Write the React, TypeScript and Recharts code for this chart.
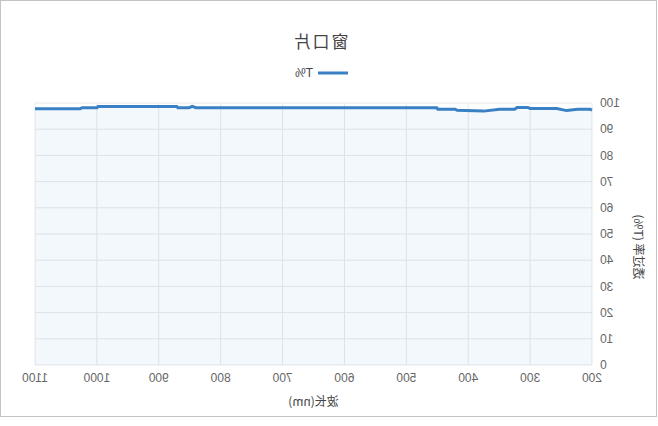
import React from 'react';
import { AreaChart, Area, XAxis, YAxis, CartesianGrid, Legend, Label } from 'recharts';

const wavelengths = [200, 203, 223, 241, 257, 300, 304, 321, 325, 349, 375, 418, 421, 449, 451, 840, 846, 851, 869, 871, 998, 1000, 1024, 1027, 1100];
const transmittance = [97.3, 97.6, 97.6, 97.1, 97.9, 97.9, 98.3, 98.3, 97.6, 97.6, 96.9, 97.2, 97.6, 97.6, 98.2, 98.2, 98.7, 98.2, 98.2, 98.7, 98.7, 98.2, 98.2, 97.8, 97.8];
const xTicks = [200, 300, 400, 500, 600, 700, 800, 900, 1000, 1100];
const yTicks = [0, 10, 20, 30, 40, 50, 60, 70, 80, 90, 100];

const title = '窗口片';
const seriesName = 'T%';
const xTitle = '波长(nm)';
const yTitle = '透过率 (T%)';

const data = wavelengths.map((w, i) => ({ wl: w, t: transmittance[i] }));

const FONT = '"Noto Sans CJK SC", "Noto Sans", sans-serif';
const TICK_FONT = '"Liberation Sans", Arial, sans-serif';
const BLUE = '#3a80c4';

export default function App() {
  return (
    <div
      style={{
        position: 'absolute',
        left: 0,
        top: 0,
        width: 657,
        height: 417,
        border: '1px solid #c4c4c4',
        boxSizing: 'border-box',
        background: '#fff',
        transform: 'scaleX(-1)',
        fontFamily: FONT,
      }}
    >
      <div
        style={{
          position: 'absolute',
          top: 29,
          left: 236,
          width: 200,
          textAlign: 'center',
          fontSize: 17,
          letterSpacing: 2,
          color: '#444',
          lineHeight: '22px',
          zIndex: 2,
        }}
      >
        {title}
      </div>
      <AreaChart
        width={655}
        height={415}
        data={data}
        margin={{ top: 102, right: 34, bottom: 21, left: 0 }}
        style={{ fontFamily: FONT }}
      >
        <CartesianGrid stroke="#e6e8ea" strokeWidth={1} />
        <XAxis
          dataKey="wl"
          type="number"
          domain={[200, 1100]}
          ticks={xTicks}
          interval={0}
          axisLine={false}
          tickLine={false}
          tick={{ fill: '#666', fontSize: 12, fontFamily: TICK_FONT }}
          height={30}
        >
          <Label
            content={(props: any) => {
              const vb = props.viewBox || {};
              const cx = (vb.x ?? 64) + (vb.width ?? 557) / 2;
              return (
                <text x={cx} y={405} textAnchor="middle" fill="#444" fontSize={12} fontFamily={FONT}>
                  {xTitle}
                </text>
              );
            }}
          />
        </XAxis>
        <YAxis
          type="number"
          domain={[0, 100]}
          ticks={yTicks}
          interval={0}
          axisLine={false}
          tickLine={false}
          tick={{ fill: '#666', fontSize: 12, fontFamily: TICK_FONT }}
          width={64}
        >
          <Label
            content={() => (
              <text
                x={16.5}
                y={246}
                transform="rotate(-90 16.5 246)"
                textAnchor="middle"
                dominantBaseline="central"
                fill="#444"
                fontSize={12}
                fontFamily={FONT}
              >
                {yTitle}
              </text>
            )}
          />
        </YAxis>
        <Legend
          layout="horizontal"
          verticalAlign="middle"
          align="center"
          wrapperStyle={{ top: 62, left: 0, width: 655, height: 20 }}
          content={() => (
            <div style={{ display: 'flex', alignItems: 'center', marginLeft: 308, height: 20 }}>
              <svg width={30} height={4} style={{ display: 'block' }}>
                <line x1={0} y1={2} x2={30} y2={2} stroke={BLUE} strokeWidth={3} />
              </svg>
              <span style={{ marginLeft: 5, fontSize: 12, color: '#444', fontFamily: TICK_FONT }}>{seriesName}</span>
            </div>
          )}
        />
        <Area
          type="linear"
          dataKey="t"
          name={seriesName}
          stroke={BLUE}
          strokeWidth={3}
          fill={BLUE}
          fillOpacity={0.06}
          dot={false}
          activeDot={false}
          isAnimationActive={false}
        />
      </AreaChart>
    </div>
  );
}
